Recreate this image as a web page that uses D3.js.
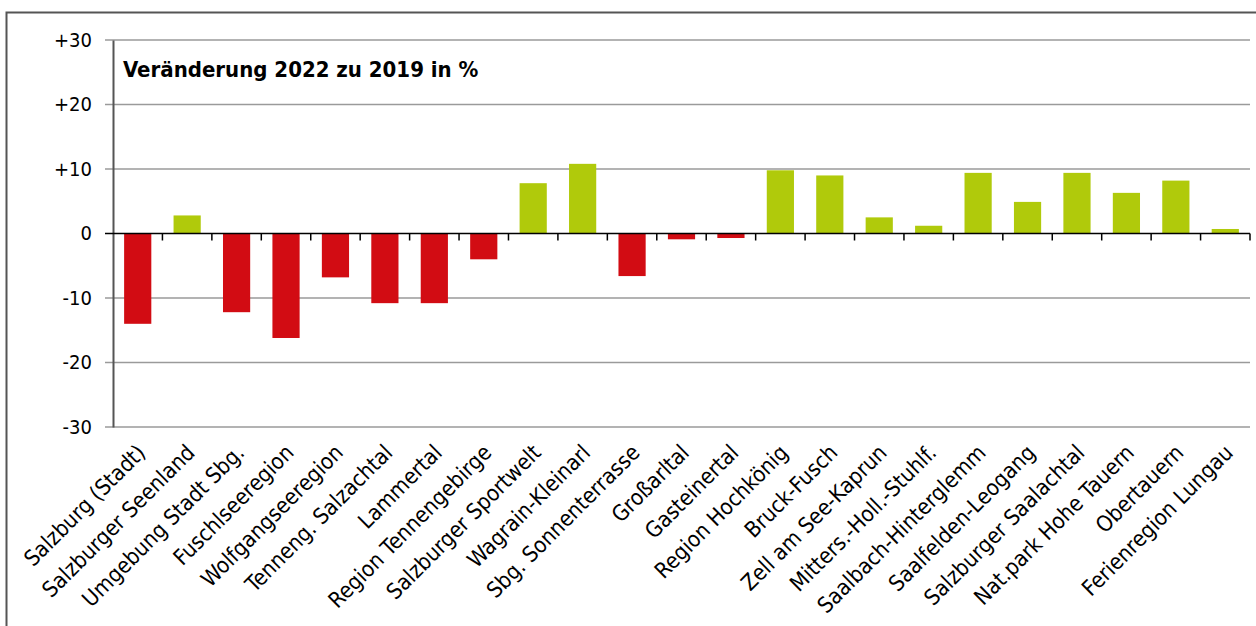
<!DOCTYPE html>
<html lang="de">
<head>
<meta charset="UTF-8">
<title>Veränderung 2022 zu 2019</title>
<style>
  html, body { margin: 0; padding: 0; background: #fff; }
  svg { display: block; }
</style>
</head>
<body>
<script src="https://cdn.jsdelivr.net/npm/d3@7"></script>
<script>
// data
var regions = ["Salzburg (Stadt)", "Salzburger Seenland", "Umgebung Stadt Sbg.", "Fuschlseeregion",
  "Wolfgangseeregion", "Tenneng. Salzachtal", "Lammertal", "Region Tennengebirge",
  "Salzburger Sportwelt", "Wagrain-Kleinarl", "Sbg. Sonnenterrasse", "Großarltal", "Gasteinertal",
  "Region Hochkönig", "Bruck-Fusch", "Zell am See-Kaprun", "Mitters.-Holl.-Stuhlf.",
  "Saalbach-Hinterglemm", "Saalfelden-Leogang", "Salzburger Saalachtal", "Nat.park Hohe Tauern",
  "Obertauern", "Ferienregion Lungau"];
var change = [-14.0, 2.8, -12.2, -16.2, -6.8, -10.8, -10.8, -4.0, 7.8, 10.8, -6.6, -0.9, -0.7,
  9.8, 9.0, 2.5, 1.2, 9.4, 4.9, 9.4, 6.3, 8.2, 0.7];
var yTicks = [-30, -20, -10, 0, 10, 20, 30];
var yTickLabels = ["-30", "-20", "-10", "0", "+10", "+20", "+30"];
var title = "Veränderung 2022 zu 2019 in %";

var W = 1256, H = 626;
var margin = { top: 40, right: 6, bottom: 199, left: 113 };
var width = W - margin.left - margin.right,
    height = H - margin.top - margin.bottom;
var font = "'DejaVu Sans Condensed', 'DejaVu Sans', sans-serif";

var svg = d3.select("body").append("svg")
    .attr("width", W)
    .attr("height", H);

// outer frame (top and left only visible)
svg.append("path")
    .attr("d", "M6.5," + H + "V12.5H" + W)
    .attr("fill", "none")
    .attr("stroke", "#555")
    .attr("stroke-width", 2);

var g = svg.append("g")
    .attr("transform", "translate(" + margin.left + "," + margin.top + ")");

var x = d3.scaleBand()
    .domain(regions)
    .range([0, width])
    .paddingInner(0.45)
    .paddingOuter(0.225);

var xTick = d3.scaleBand().domain(regions).range([0, width]);

var y = d3.scaleLinear().domain([-30, 30]).range([height, 0]);

// gridlines
g.append("g")
    .selectAll("line")
    .data(yTicks.filter(function (d) { return d !== 0; }))
    .enter().append("line")
    .attr("x1", -8)
    .attr("x2", width)
    .attr("y1", function (d) { return y(d); })
    .attr("y2", function (d) { return y(d); })
    .attr("stroke", "#9a9a9a")
    .attr("stroke-width", 1.5);

// y axis
var yAxis = d3.axisLeft(y)
    .tickValues(yTicks)
    .tickSize(0)
    .tickPadding(21)
    .tickFormat(function (d, i) { return yTickLabels[i]; });

var ya = g.append("g").call(yAxis);
ya.select(".domain").attr("stroke", "#555").attr("stroke-width", 2);
ya.selectAll("text")
    .style("font-family", font)
    .style("font-size", "20px")
    .attr("fill", "#000");

// bars
g.append("g")
    .selectAll("rect")
    .data(change)
    .enter().append("rect")
    .attr("x", function (d, i) { return x(regions[i]); })
    .attr("width", x.bandwidth())
    .attr("y", function (d) { return y(Math.max(0, d)); })
    .attr("height", function (d) { return Math.abs(y(d) - y(0)); })
    .attr("fill", function (d) { return d < 0 ? "#d20c13" : "#b0ca0b"; });

// zero line with ticks between categories
g.append("line")
    .attr("x1", -8)
    .attr("x2", width)
    .attr("y1", y(0))
    .attr("y2", y(0))
    .attr("stroke", "#000")
    .attr("stroke-width", 1.5);

g.append("g")
    .selectAll("line")
    .data(regions)
    .enter().append("line")
    .attr("x1", function (d) { return xTick(d) + xTick.bandwidth(); })
    .attr("x2", function (d) { return xTick(d) + xTick.bandwidth(); })
    .attr("y1", y(0))
    .attr("y2", y(0) + 7)
    .attr("stroke", "#000")
    .attr("stroke-width", 1.5);

// category labels
g.append("g")
    .selectAll("text")
    .data(regions)
    .enter().append("text")
    .attr("transform", function (d) {
        return "translate(" + (x(d) + x.bandwidth() / 2 + 9) + "," + (height + 27) + ") rotate(-45)";
    })
    .attr("text-anchor", "end")
    .style("font-family", font)
    .style("font-size", "22px")
    .attr("fill", "#000")
    .text(function (d) { return d; });

// title
g.append("text")
    .attr("x", 10)
    .attr("y", 37)
    .style("font-family", font)
    .style("font-size", "22px")
    .style("font-weight", "bold")
    .attr("fill", "#000")
    .text(title);
</script>
</body>
</html>
